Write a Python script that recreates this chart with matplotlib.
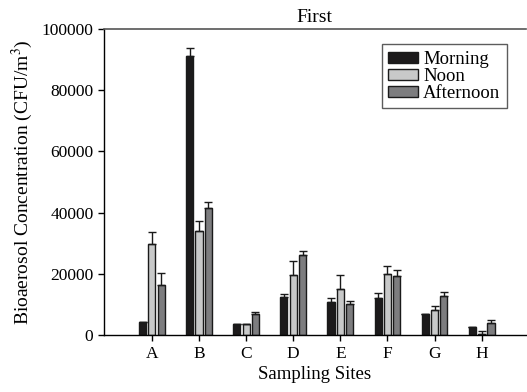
import matplotlib
matplotlib.use("Agg")
import matplotlib.pyplot as plt
import numpy as np

plt.rcParams['font.family'] = ['Liberation Serif', 'DejaVu Serif']
plt.rcParams['mathtext.fontset'] = 'stix'

sites = ['A', 'B', 'C', 'D', 'E', 'F', 'G', 'H']
morning = [4400, 91200, 3500, 12400, 10700, 12000, 6800, 2600]
morning_err = [0, 2500, 0, 900, 1300, 1700, 0, 0]
noon = [29800, 33900, 3500, 19500, 15100, 19800, 8200, 300]
noon_err = [3700, 3200, 0, 4700, 4500, 2900, 1200, 1100]
afternoon = [16200, 41400, 6800, 26100, 10200, 19400, 12900, 3800]
afternoon_err = [3900, 2000, 800, 1300, 800, 2000, 1000, 1100]

fig = plt.figure(figsize=(5.27, 3.92), dpi=100)
ax = fig.add_axes([0.197, 0.1454, 0.801, 0.7806])

x = np.arange(len(sites))
w = 0.15
step = 0.198
series = [(morning, morning_err, '#1c1a1b', 'Morning'),
          (noon, noon_err, '#c8c9c9', 'Noon'),
          (afternoon, afternoon_err, '#7d7d7f', 'Afternoon')]
for i, (vals, errs, col, lab) in enumerate(series):
    ax.bar(x + (i - 1) * step, vals, w, color=col, edgecolor='#1a1a1a',
           linewidth=1.0, label=lab,
           yerr=[np.zeros(len(errs)), errs],
           error_kw=dict(ecolor='#1a1a1a', elinewidth=1.0, capsize=2.8, capthick=1.0))

ax.set_xlim(-1.02, 7.94)
ax.set_ylim(0, 100000)
ax.set_xticks(x)
ax.set_xticklabels(sites)
ax.set_yticks(np.arange(0, 100001, 20000))
ax.tick_params(axis='both', labelsize=12.5, direction='out', length=4, width=1)
ax.tick_params(axis='x', pad=4)
ax.spines['right'].set_visible(False)
ax.spines['top'].set_color('#555555')
ax.spines['top'].set_linewidth(1.2)
ax.spines['left'].set_linewidth(1.0)
ax.spines['bottom'].set_linewidth(1.0)

ax.set_title('First', fontsize=14, pad=5)
ax.set_xlabel('Sampling Sites', fontsize=13.5, labelpad=3)
ax.set_ylabel('Bioaerosol Concentration (CFU/m$^3$)', fontsize=14, labelpad=5)

leg = ax.legend(loc='upper right', bbox_to_anchor=(0.955, 0.95), fontsize=13.5,
                frameon=True, fancybox=False, edgecolor='#333333',
                labelspacing=0.0, handlelength=1.55, handleheight=0.55,
                handletextpad=0.3, borderpad=0.35, borderaxespad=0)
leg.get_frame().set_linewidth(1.0)

fig.savefig('out.png', dpi=100)
